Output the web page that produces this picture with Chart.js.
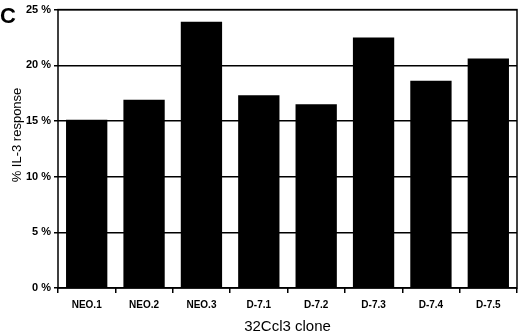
<!DOCTYPE html>
<html>
<head>
<meta charset="utf-8">
<script src="https://cdn.jsdelivr.net/npm/chart.js@4"></script>
<style>
  html, body { margin: 0; padding: 0; background: #fff; }
  #wrap { width: 520px; height: 336px; }
</style>
</head>
<body>
<div id="wrap"><canvas id="c"></canvas></div>
<script>
const clones = ["NEO.1", "NEO.2", "NEO.3", "D-7.1", "D-7.2", "D-7.3", "D-7.4", "D-7.5"];
const il3Response = [15.1, 16.9, 23.9, 17.3, 16.5, 22.5, 18.6, 20.6];
const yTicks = [0, 5, 10, 15, 20, 25];

const font = "Liberation Sans, Arial, sans-serif";

// frame round the plot, the panel letter and the y title
const boxPlugin = {
  id: "plotBox",
  afterDraw(chart) {
    const a = chart.chartArea;
    const ctx = chart.ctx;
    ctx.save();
    ctx.strokeStyle = "#000";
    ctx.lineWidth = 1.5;
    ctx.strokeRect(a.left, a.top, a.right - a.left, a.bottom - a.top);

    ctx.fillStyle = "#000";
    ctx.font = "bold 22px " + font;
    ctx.textBaseline = "top";
    ctx.fillText("C", 0, 6);

    ctx.font = "13px " + font;
    ctx.textAlign = "center";
    ctx.textBaseline = "middle";
    ctx.translate(17, 135);
    ctx.rotate(-Math.PI / 2);
    ctx.fillText("% IL-3 response", 0, 0);
    ctx.restore();
  },
};

new Chart(document.getElementById("c"), {
  type: "bar",
  data: {
    labels: clones,
    datasets: [
      {
        label: "% IL-3 response",
        data: il3Response,
        backgroundColor: "#000",
        borderWidth: 0,
        barPercentage: 0.72,
        categoryPercentage: 1.0,
      },
    ],
  },
  options: {
    responsive: true,
    maintainAspectRatio: false,
    animation: false,
    layout: { padding: { top: 5, right: 3, left: 0, bottom: 0 } },
    plugins: {
      legend: { display: false },
      tooltip: { enabled: false },
    },
    scales: {
      x: {
        grid: {
          display: true,
          drawOnChartArea: false,
          drawTicks: true,
          tickLength: 5,
          color: "#000",
          lineWidth: 1.5,
          offset: true,
        },
        border: { display: false },
        ticks: {
          color: "#000",
          font: { family: font, size: 10, weight: "bold" },
          padding: 6,
          maxRotation: 0,
        },
        title: {
          display: true,
          text: "32Ccl3 clone",
          color: "#000",
          font: { family: font, size: 15 },
          padding: { top: 6, bottom: 0 },
        },
        afterFit(scale) {
          scale.height = 48;
        },
      },
      y: {
        min: 0,
        max: 25,
        afterBuildTicks(scale) {
          scale.ticks = yTicks.map((v) => ({ value: v }));
        },
        grid: {
          color: "#000",
          lineWidth: 1.5,
          tickLength: 4,
        },
        border: { display: false },
        ticks: {
          color: "#000",
          font: { family: font, size: 11, weight: "bold" },
          padding: 3,
          callback: (v) => v + " %",
        },
        afterFit(scale) {
          scale.width = 58;
        },
      },
    },
  },
  plugins: [boxPlugin],
});
</script>
</body>
</html>
